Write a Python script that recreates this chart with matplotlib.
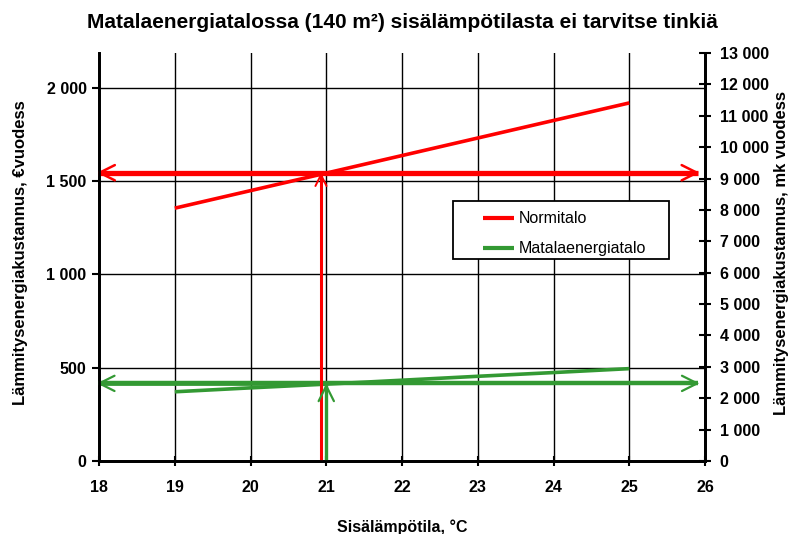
import matplotlib
matplotlib.use("Agg")
import matplotlib.pyplot as plt
from matplotlib.patches import Rectangle

plt.rcParams['font.family'] = ['Liberation Sans', 'DejaVu Sans']

# Indoor temperature (°C) and annual heating cost (€/year)
temps = [19, 20, 21, 22, 23, 24, 25]
normitalo = [1355, 1449, 1543, 1637, 1731, 1825, 1919]
matalaenergiatalo = [371, 392, 412, 433, 454, 474, 495]

# Reading lines at 21 °C
target_temp = 21
normi_at_target = 1545
matala_at_target = 416

EUR_TO_MK = 5.94573
MK_MAX = 13000

x_ticks = [18, 19, 20, 21, 22, 23, 24, 25, 26]
left_ticks = [0, 500, 1000, 1500, 2000]
right_ticks = list(range(0, 14000, 1000))

RED = '#ff0000'
GREEN = '#339933'


def fmt(v):
    return f"{v:,}".replace(",", " ")


def arrow_head(ax, tip, tail, color, lw=1.6, length=1.1, width=0.55):
    ax.annotate('', xy=tip, xytext=tail,
                arrowprops=dict(arrowstyle=f'->,head_length={length},head_width={width}',
                                color=color, lw=lw, shrinkA=0, shrinkB=0),
                annotation_clip=False, zorder=6)


fig = plt.figure(figsize=(7.91, 5.34), dpi=100)
ax = fig.add_axes([0.1252, 0.1367, 0.7661, 0.764])
ax2 = ax.twinx()

ax.set_xlim(18, 26)
ax.set_ylim(0, MK_MAX / EUR_TO_MK)
ax2.set_ylim(0, MK_MAX)

# grid
for xv in x_ticks[1:-1]:
    ax.axvline(xv, color='black', lw=1.0, zorder=1)
for yv in left_ticks[1:]:
    ax.axhline(yv, color='black', lw=1.0, zorder=1)

# data lines
ax.plot(temps, normitalo, color=RED, lw=2.6, solid_capstyle='butt', zorder=4, label='Normitalo')
ax.plot(temps, matalaenergiatalo, color=GREEN, lw=2.6, solid_capstyle='butt', zorder=4,
        label='Matalaenergiatalo')

# horizontal reading arrows (shaft + open heads)
left_tip, right_tip = 17.97, 25.93
ax.plot([left_tip + 0.02, right_tip - 0.02], [normi_at_target] * 2, color=RED, lw=3.8,
        solid_capstyle='butt', zorder=5, clip_on=False)
arrow_head(ax, (left_tip, normi_at_target), (left_tip + 0.4, normi_at_target), RED, lw=1.8)
arrow_head(ax, (right_tip, normi_at_target), (right_tip - 0.4, normi_at_target), RED, lw=1.8)

ax.plot([left_tip + 0.02, right_tip - 0.02], [matala_at_target] * 2, color=GREEN, lw=3.2,
        solid_capstyle='butt', zorder=5, clip_on=False)
ax.plot([18, 20.67], [matala_at_target + 3, matala_at_target + 3], color=GREEN, lw=3.4,
        solid_capstyle='butt', zorder=5)
arrow_head(ax, (left_tip, matala_at_target), (left_tip + 0.4, matala_at_target), GREEN, lw=1.6)
arrow_head(ax, (right_tip, matala_at_target), (right_tip - 0.4, matala_at_target), GREEN, lw=1.6)

# vertical reading arrows
ax.plot([target_temp - 0.07] * 2, [0, normi_at_target - 8], color=RED, lw=2.2,
        solid_capstyle='butt', zorder=5)
arrow_head(ax, (target_temp - 0.07, normi_at_target), (target_temp - 0.07, normi_at_target - 150),
           RED, lw=1.4, length=0.8, width=0.4)
ax.plot([target_temp] * 2, [0, matala_at_target - 8], color=GREEN, lw=2.4,
        solid_capstyle='butt', zorder=5)
arrow_head(ax, (target_temp, matala_at_target), (target_temp, matala_at_target - 150),
           GREEN, lw=1.6)

# ticks and labels
ax.set_xticks(x_ticks)
ax.set_xticklabels([str(v) for v in x_ticks], fontsize=11.5, fontweight='bold')
ax.set_yticks(left_ticks)
ax.set_yticklabels([fmt(v) for v in left_ticks], fontsize=11.5, fontweight='bold')
ax2.set_yticks(right_ticks)
ax2.set_yticklabels([fmt(v) for v in right_ticks], fontsize=11.5, fontweight='bold')

ax.tick_params(axis='x', direction='inout', length=7, width=1.5, pad=10)
ax.tick_params(axis='y', direction='out', length=5, width=1.5, pad=4)
ax2.tick_params(axis='y', direction='inout', length=9, width=1.5, pad=6)

for a in (ax, ax2):
    a.spines['top'].set_visible(False)
    for s in ('left', 'right', 'bottom'):
        a.spines[s].set_linewidth(2.0)

ax.set_xlabel('Sisälämpötila, °C', fontsize=11.5, fontweight='bold', labelpad=18)
ax.set_ylabel('Lämmitysenergiakustannus, €vuodess', fontsize=12, fontweight='bold')
ax.yaxis.set_label_coords(-0.117, 0.51)
ax2.set_ylabel('Lämmitysenergiakustannus, mk vuodess', fontsize=12, fontweight='bold')
ax2.yaxis.set_label_coords(1.114, 0.51)
ax.set_title('Matalaenergiatalossa (140 m²) sisälämpötilasta ei tarvitse tinkiä',
             fontsize=15, fontweight='bold', pad=18)

# legend
ax2.add_patch(Rectangle((0.584, 0.495), 0.357, 0.142, transform=ax.transAxes,
                        facecolor='white', edgecolor='black', lw=1.3, zorder=8))
leg = ax2.legend(*ax.get_legend_handles_labels(), loc='center left',
                 bbox_to_anchor=(0.634, 0.557), bbox_transform=ax.transAxes,
                 frameon=False, borderpad=0, borderaxespad=0, fontsize=11.5,
                 handlelength=1.9, handletextpad=0.3, labelspacing=0.95)
leg.set_zorder(9)
for line in leg.get_lines():
    line.set_linewidth(3.0)

fig.savefig('out.png', dpi=100)
